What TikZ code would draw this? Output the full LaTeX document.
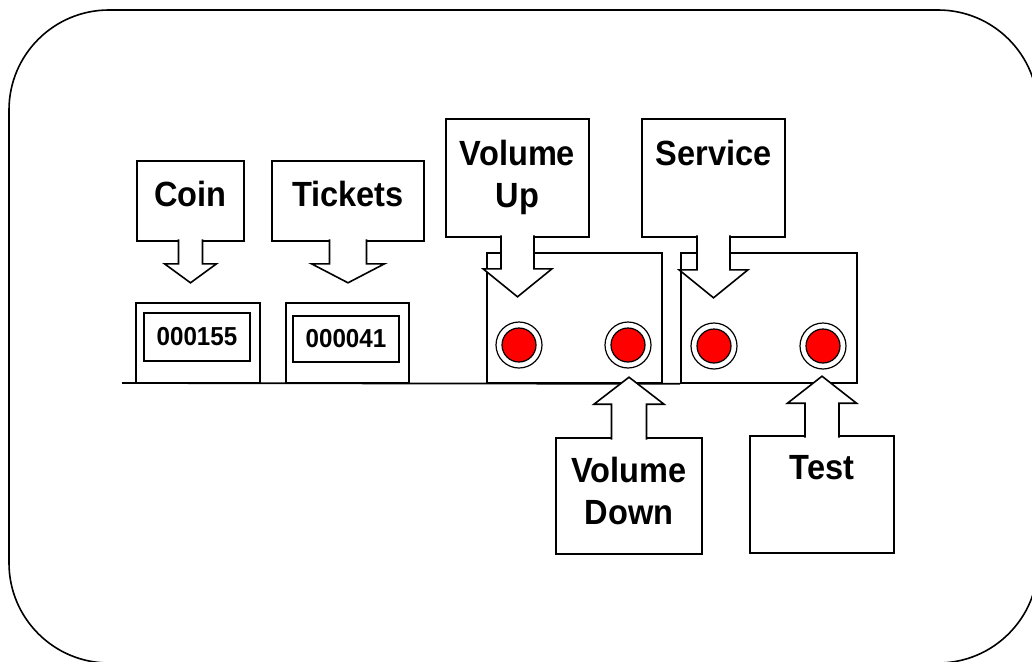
\documentclass[tikz,border=0pt]{standalone}
\usepackage{fontspec}
\setmainfont{Liberation Sans}[FakeStretch=0.93]
\usetikzlibrary{positioning}
\begin{document}
\begin{tikzpicture}[x=1pt,y=-1pt]
\tikzstyle{frame} = [line width=1.6pt, rounded corners=100pt]
\tikzstyle{callout} = [rectangle, draw=black, fill=white, line width=1.6pt, inner sep=0pt]
\tikzstyle{pointer} = [draw=black, fill=white, line width=1.6pt, line join=miter]
\tikzstyle{lbl} = [inner sep=0pt, align=center, font=\fontsize{35}{42}\selectfont\bfseries]
\tikzstyle{counter} = [rectangle, draw=black, line width=1.6pt, inner sep=0pt, font=\fontsize{26}{30}\selectfont\bfseries]
\tikzstyle{panel} = [rectangle, draw=black, line width=1.6pt, minimum width=175pt, minimum height=130pt]
\tikzstyle{button} = [circle, draw=black, fill=red, line width=1.2pt, minimum size=34pt, inner sep=0pt]
\tikzstyle{ring} = [draw=black, line width=1.2pt]
%
\clip (0,0) rectangle (1032,661);
\draw [frame] (9,10) rectangle (1038,663);
%
\node (coincase)    [counter, minimum width=124pt, minimum height=80pt] at (198,343)   {};
\node (coincount)   [counter, minimum width=106pt, minimum height=48pt] at (197,337)   {000155};
\node (ticketcase)  [counter, minimum width=123pt, minimum height=80pt] at (347.5,343) {};
\node (ticketcount) [counter, minimum width=106pt, minimum height=46pt] at (346,339)   {000041};
%
\node (panelA) [panel]                     at (574.5,318) {};
\node (panelB) [panel, minimum width=176pt] at (769,318)   {};
\coordinate (base) at (122,383);
\draw [line width=1.8pt] (base) -- (panelB.south west);
%
\foreach \n/\x/\y in {1/519/345, 2/628/345, 3/714/346, 4/823/346} {
  \node (btn\n) [button] at (\x,\y) {};
  \draw [ring] (btn\n.center) circle [radius=23pt];
}
%
\node (coin)    [callout, minimum width=107pt, minimum height=80pt]  at (190.5,201) {};
\node (tickets) [callout, minimum width=152pt, minimum height=80pt]  at (348,201)   {};
\node (volup)   [callout, minimum width=143pt, minimum height=118pt] at (517.5,178) {};
\node (service) [callout, minimum width=143pt, minimum height=118pt] at (713.5,178) {};
\node (voldown) [callout, minimum width=146pt, minimum height=116pt] at (629,496)   {};
\node (test)    [callout, minimum width=144pt, minimum height=117pt] at (822,494.5) {};
%
\draw [pointer] ([xshift=-12pt,yshift=2.5pt]coin.south) -- ++(0,24.5) -- ++(-14,0) -- ++(26,19) -- ++(26,-19) -- ++(-14,0) -- ++(0,-24.5);
\draw [pointer] ([xshift=-18.5pt,yshift=2.5pt]tickets.south) -- ++(0,24.5) -- ++(-18,0) -- ++(36.5,19) -- ++(36.5,-19) -- ++(-18,0) -- ++(0,-24.5);
\draw [pointer] ([xshift=-16.5pt,yshift=2.5pt]volup.south) -- ++(0,33.5) -- ++(-18,0) -- ++(34.5,28) -- ++(34.5,-28) -- ++(-18,0) -- ++(0,-33.5);
\draw [pointer] ([xshift=-16.5pt,yshift=2.5pt]service.south) -- ++(0,34.5) -- ++(-18,0) -- ++(34.5,28) -- ++(34.5,-28) -- ++(-18,0) -- ++(0,-34.5);
\draw [pointer] ([xshift=-17.5pt,yshift=-2.5pt]voldown.north) -- ++(0,-35.5) -- ++(-17.5,0) -- ++(35,-27) -- ++(35,27) -- ++(-17.5,0) -- ++(0,35.5);
\draw [pointer] ([xshift=-17pt,yshift=-2.5pt]test.north) -- ++(0,-34.5) -- ++(-17.5,0) -- ++(34.5,-27) -- ++(34.5,27) -- ++(-17.5,0) -- ++(0,34.5);
%
\node [lbl, below=21pt of coin.north]    {Coin};
\node [lbl, below=21pt of tickets.north] {Tickets};
\node [lbl, below=22pt of volup.north]   {Volume\\Up};
\node [lbl, below=22pt of service.north] {Service};
\node [lbl, below=20pt of voldown.north] {Volume\\Down};
\node [lbl, below=20pt of test.north]    {Test};
\end{tikzpicture}
\end{document}
